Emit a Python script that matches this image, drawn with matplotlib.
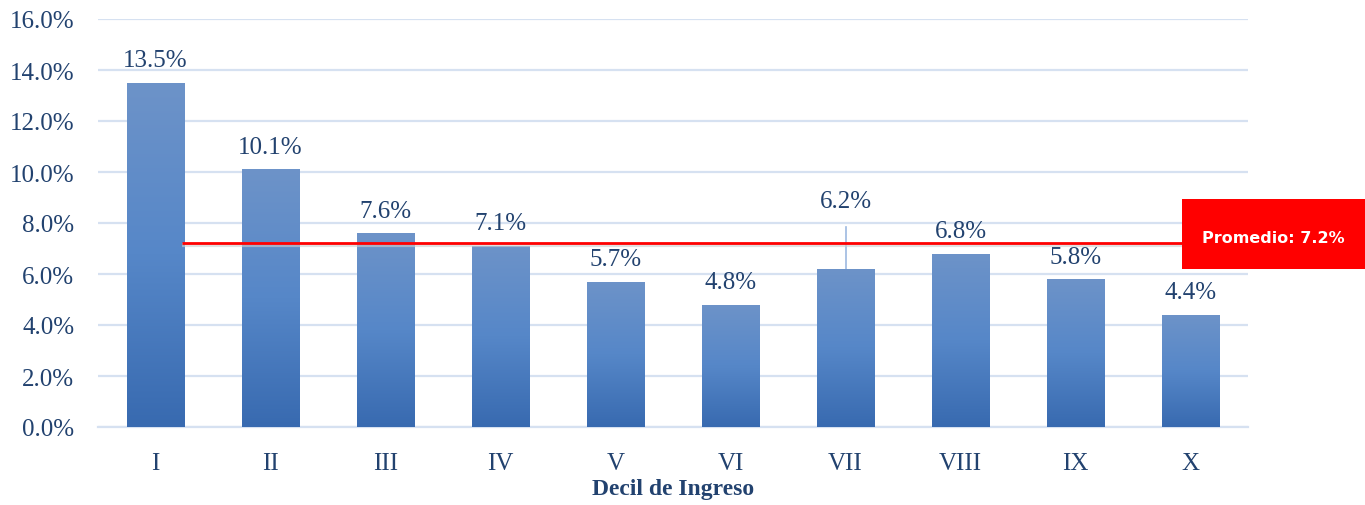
import matplotlib
matplotlib.use("Agg")
import matplotlib.pyplot as plt
import numpy as np
from matplotlib.patches import Rectangle
from matplotlib.colors import LinearSegmentedColormap

deciles = ["I", "II", "III", "IV", "V", "VI", "VII", "VIII", "IX", "X"]
valores = [13.5, 10.1, 7.6, 7.1, 5.7, 4.8, 6.2, 6.8, 5.8, 4.4]
promedio = 7.2
yticks = [0, 2, 4, 6, 8, 10, 12, 14, 16]

txt_color = "#22426F"
grid_color = "#D6E1F1"

plt.rcParams['font.family'] = ['Liberation Serif', 'DejaVu Serif']

fig = plt.figure(figsize=(13.65, 5.06), dpi=100)
ax = fig.add_axes([98 / 1365, 1 - 428 / 506, 1150 / 1365, 408 / 506])

x = np.arange(len(deciles))
ancho = 0.5
bars = ax.bar(x, valores, width=ancho, color="none", zorder=3)

# degradado vertical en cada barra
cmap = LinearSegmentedColormap.from_list("azul", ["#386AB0", "#5687C8", "#6D93C9"])
grad = np.linspace(0, 1, 256).reshape(-1, 1)
for b in bars:
    x0, w, h = b.get_x(), b.get_width(), b.get_height()
    im = ax.imshow(grad, extent=[x0, x0 + w, 0, h], origin="lower", cmap=cmap,
                   aspect="auto", zorder=3)
    im.set_clip_path(b)

# etiquetas de datos
for i, v in enumerate(valores):
    if deciles[i] == "VII":
        ly = 8.45
        ax.plot([i, i], [v, ly - 0.6], color="#9DB9E0", lw=1.2, zorder=2)
    else:
        ly = v + 0.45
    ax.text(i, ly, f"{v:.1f}%", ha="center", va="bottom", fontsize=18,
            color=txt_color)

# línea de promedio
ax.plot([0.23, 9.5], [promedio - 0.08, promedio - 0.08], color="#CCCCCC", lw=3,
        alpha=0.6, zorder=4, solid_capstyle="butt")
ax.plot([0.23, 9.5], [promedio, promedio], color="#FF0000", lw=2, zorder=5,
        solid_capstyle="butt")

ax.set_xlim(-0.5, 9.5)
ax.set_ylim(0, 16)
ax.set_yticks(yticks)
ax.set_yticklabels([f"{t:.1f}%" for t in yticks])
ax.set_xticks(x)
ax.set_xticklabels(deciles)
ax.tick_params(axis="both", length=0, labelsize=18, colors=txt_color)
ax.tick_params(axis="x", pad=18)
ax.tick_params(axis="y", pad=17)
ax.grid(axis="y", color=grid_color, lw=1.6, zorder=0)
ax.set_axisbelow(True)
for s in ["top", "right", "left"]:
    ax.spines[s].set_visible(False)
ax.spines["bottom"].set_color(grid_color)
ax.spines["bottom"].set_linewidth(1.6)

ax.set_xlabel("Decil de Ingreso", fontsize=17, fontweight="bold", color=txt_color,
              labelpad=3)

# caja de promedio
fig.patches.append(Rectangle((1182 / 1365, 1 - 270 / 506), 183 / 1365, 70 / 506,
                             transform=fig.transFigure, facecolor="#FF0000",
                             edgecolor="none", zorder=10))
fig.text((1182 + 1365) / 2 / 1365, 1 - 239 / 506, f"Promedio: {promedio}%",
         ha="center", va="center", color="white", fontsize=11.5,
         fontweight="bold", family=["DejaVu Sans"], zorder=11)

fig.savefig("out.png", dpi=100)
